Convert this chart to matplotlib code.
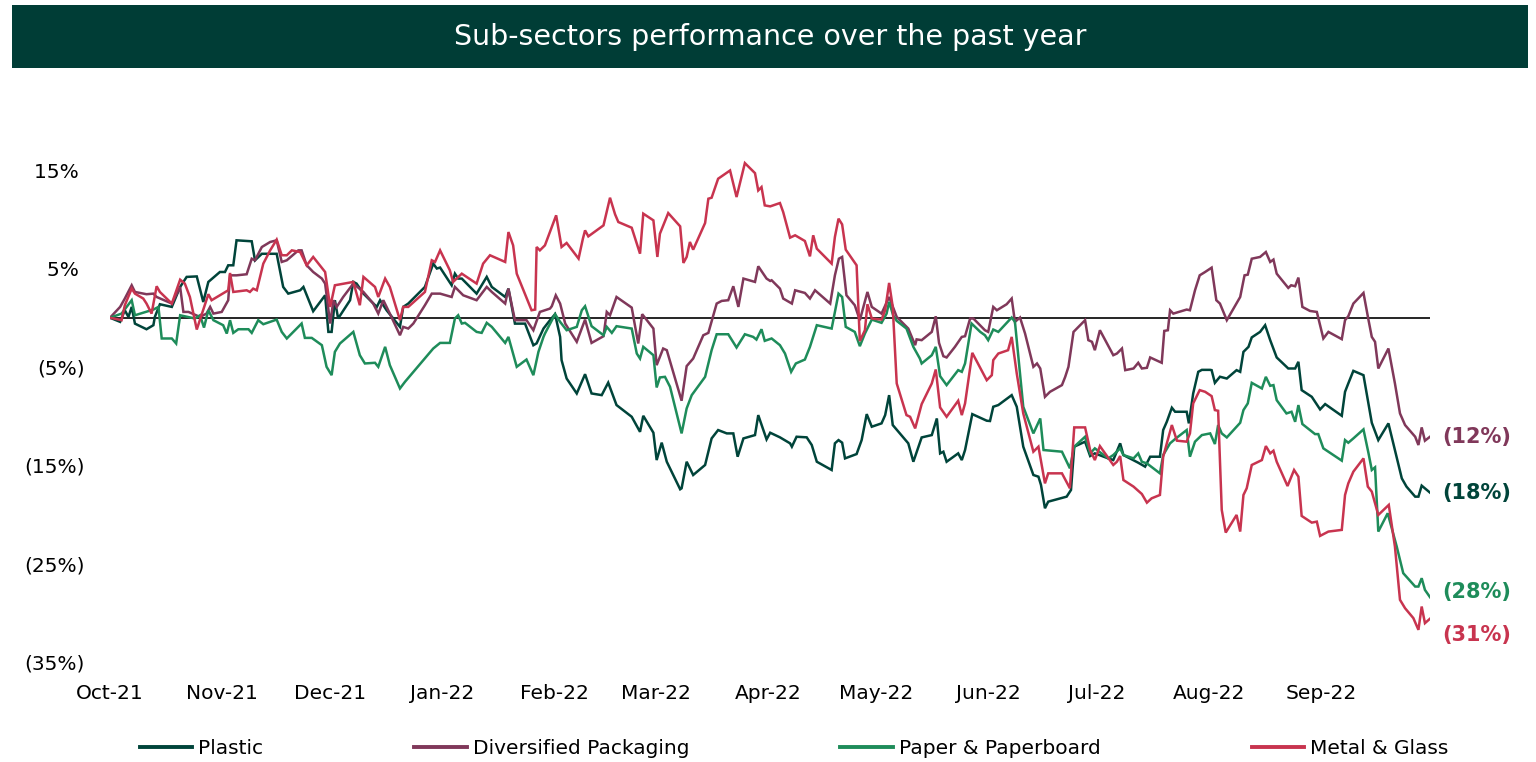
"""Sub-sectors performance over the past year - line chart."""
import pandas as pd
import matplotlib
matplotlib.use('Agg')
import matplotlib.pyplot as plt
import matplotlib.dates as mdates
from matplotlib.patches import Rectangle

plt.rcParams['font.family'] = ['DejaVu Sans']

TITLE = 'Sub-sectors performance over the past year'
START = pd.Timestamp('2021-10-01')
MONTH_TICKS = pd.date_range('2021-10-01', '2022-09-01', freq='MS')

# (days since 1 Oct 2021, cumulative performance in %)
PLASTIC = [
    (0, 0), (2.8, -0.42), (4.1, 0.76), (5.1, 0.08), (6.0, 1.1), (6.9, -0.6), (10.1, -1.17), (12.0, -0.76),
    (12.4, 0.08), (13.8, 1.37), (17.1, 1.1), (19.4, 3.13), (21.2, 4.15), (24.0, 4.2), (25.8, 1.6), (27.2, 3.64),
    (30.4, 4.65), (31.8, 4.65), (32.7, 5.33), (34.1, 5.33), (35.0, 7.87), (39.2, 7.77), (40.1, 5.84), (42.0, 6.5),
    (46.1, 6.5), (47.9, 3.13), (49.3, 2.45), (52.6, 2.79), (53.5, 3.13), (56.2, 0.66), (59.5, 2.28), (60.4, -1.44),
    (61.3, -1.44), (62.2, 1.78), (63.1, -0.08), (66.4, 1.78), (67.3, 3.64), (68.2, 3.47), (70.1, 2.45), (73.8, 1.1),
    (74.7, 1.78), (76.5, 0.76), (80.2, -0.93), (81.1, 1.1), (82.5, 1.44), (87.1, 3.13), (89.4, 5.5), (90.4, 5.0),
    (91.3, 5.1), (94.5, 3.3), (95.4, 4.48), (96.3, 3.98), (97.3, 3.98), (101.4, 2.45), (104.2, 4.15), (105.6, 3.13),
    (109.3, 2.11), (110.2, 2.96), (112.0, -0.6), (114.8, -0.6), (117.1, -2.8), (118.0, -2.6), (119.9, -1.1),
    (121.7, -0.25), (123.1, 0.36), (124.5, -1.95), (124.9, -4.31), (126.3, -6.18), (129.1, -7.7), (131.4, -5.74),
    (133.2, -7.7), (136.0, -7.87), (137.8, -6.6), (140.1, -8.88), (144.3, -10.07), (146.6, -11.6), (147.5, -9.97),
    (150.3, -11.69), (151.2, -14.47), (152.6, -12.7), (154.0, -14.64), (157.7, -17.44), (158.1, -17.34),
    (159.5, -14.64), (161.3, -15.99), (164.6, -14.97), (166.4, -12.27), (168.2, -11.42), (170.6, -11.76),
    (172.4, -11.76), (173.6, -14.13), (175.2, -12.27), (178.4, -11.93), (179.3, -9.9), (181.6, -12.37),
    (182.6, -11.69), (183.0, -11.76), (185.3, -12.16), (188.1, -12.77), (188.6, -13.11), (189.9, -12.1),
    (192.7, -12.16), (194.1, -12.94), (195.5, -14.64), (199.6, -15.48), (200.5, -12.77), (201.5, -12.44),
    (202.5, -12.7), (203.3, -14.3), (206.5, -13.86), (207.9, -12.44), (209.3, -9.8), (210.7, -11.08),
    (213.4, -10.74), (214.4, -9.9), (215.5, -7.87), (216.5, -10.91), (220.8, -12.77), (222.2, -14.64),
    (224.5, -12.17), (227.3, -11.93), (228.7, -10.24), (229.6, -13.79), (230.5, -13.62), (231.4, -14.64),
    (234.6, -13.79), (235.6, -14.47), (236.5, -13.45), (238.5, -9.8), (242.5, -10.47), (243.4, -10.5),
    (244.3, -9.05), (245.7, -8.88), (249.4, -7.87), (250.8, -9.05), (252.6, -13.11), (255.4, -15.99),
    (256.8, -16.16), (257.5, -17.0), (258.6, -19.37), (259.5, -18.7), (264.6, -18.19), (265.8, -17.51),
    (266.7, -13.11), (269.7, -12.6), (271.1, -14.06), (272.4, -13.79), (276.1, -14.3), (277.5, -14.47),
    (279.4, -12.77), (280.3, -13.96), (284.4, -14.74), (286.3, -15.14), (287.7, -14.13), (290.4, -14.13),
    (291.3, -11.42), (292.3, -10.58), (293.7, -9.15), (294.6, -9.56), (297.8, -9.56), (298.4, -10.74),
    (299.6, -7.7), (301.0, -5.5), (302.0, -5.3), (304.3, -5.3), (304.7, -5.33), (305.6, -6.62), (307.0, -6.0),
    (308.9, -6.18), (311.6, -5.33), (312.6, -5.5), (313.5, -3.47), (314.9, -2.96), (315.8, -2.0), (318.1, -1.44),
    (319.5, -0.76), (320.9, -2.28), (322.7, -4.04), (325.9, -5.16), (327.8, -5.16), (328.7, -4.48), (329.6, -7.36),
    (332.4, -8.04), (334.7, -9.32), (336.1, -8.78), (340.7, -9.97), (341.6, -7.53), (342.5, -6.68), (343.9, -5.4),
    (346.7, -5.84), (349.0, -10.68), (350.8, -12.44), (353.6, -10.74), (357.3, -16.33), (358.6, -17.17),
    (361.0, -18.19), (361.9, -18.19), (362.8, -17.07), (365.1, -17.78),
]

DIVERSIFIED = [
    (0, 0), (2.8, 1.1), (4.1, 1.95), (6.0, 3.3), (6.9, 2.62), (10.1, 2.39), (12.0, 2.45), (12.9, 2.11),
    (17.1, 1.44), (19.4, 3.13), (20.3, 0.59), (21.7, 0.59), (24.9, 0.08), (26.7, 0.42), (27.7, 1.1), (28.6, 0.42),
    (30.9, 0.59), (32.7, 1.78), (33.2, 4.31), (35.0, 4.31), (37.8, 4.42), (39.2, 6.0), (40.1, 5.84), (42.0, 7.19),
    (44.3, 7.7), (46.1, 7.87), (47.5, 5.67), (48.9, 5.84), (52.1, 6.85), (53.0, 6.85), (54.4, 5.33), (56.2, 4.65),
    (58.6, 3.98), (59.5, 3.47), (60.9, -0.59), (61.8, 1.78), (62.7, 1.1), (64.5, 2.11), (67.3, 3.47), (70.1, 2.62),
    (72.8, 1.44), (74.2, 0.42), (75.6, 1.78), (77.4, 0.42), (80.2, -1.78), (81.1, -0.93), (82.5, -1.1),
    (83.9, -0.59), (87.1, 1.27), (89.0, 2.45), (91.3, 2.45), (94.5, 2.11), (95.4, 3.13), (97.7, 2.28),
    (101.4, 1.78), (104.2, 3.13), (105.6, 2.62), (109.3, 1.44), (110.2, 2.96), (112.0, -0.25), (115.2, -0.25),
    (117.1, -1.27), (118.9, 0.59), (121.7, 0.93), (122.2, 1.17), (123.3, 2.28), (124.5, 1.44), (125.9, -0.59),
    (129.1, -2.45), (131.4, -0.19), (133.2, -2.56), (136.5, -1.88), (137.4, 0.59), (138.3, 0.25), (140.1, 2.11),
    (144.3, 1.03), (146.1, -2.62), (147.2, 0.36), (150.3, -1.1), (151.2, -4.82), (153.0, -3.13), (154.0, -3.3),
    (158.1, -8.44), (159.5, -4.92), (161.3, -4.15), (164.1, -1.78), (165.5, -1.54), (167.8, 1.44), (169.2, 1.71),
    (171.0, 1.78), (172.4, 3.2), (173.8, 1.1), (175.2, 3.98), (178.4, 3.64), (179.3, 5.23), (181.6, 3.98),
    (182.6, 3.74), (183.0, 3.81), (185.3, 2.96), (186.2, 1.95), (188.6, 1.44), (189.5, 2.79), (192.2, 2.52),
    (193.6, 1.95), (195.0, 2.79), (199.2, 1.44), (200.5, 4.31), (201.6, 6.0), (202.5, 6.18), (203.7, 2.28),
    (206.0, 1.27), (207.4, -0.25), (209.5, 2.62), (210.7, 1.1), (213.4, 0.42), (215.5, 2.11), (217.6, 0.08),
    (220.8, -1.1), (222.7, -2.79), (223.1, -2.2), (224.5, -2.28), (227.3, -1.44), (228.4, 0.15), (229.3, -2.56),
    (230.5, -3.91), (231.4, -4.04), (233.7, -2.96), (235.6, -1.95), (236.5, -1.88), (237.9, -0.08),
    (238.8, -0.08), (242.0, -1.27), (242.9, -1.44), (244.3, 1.1), (245.3, 0.76), (248.0, 1.37), (249.4, 1.95),
    (250.3, -0.42), (251.7, 0.02), (253.1, -1.61), (255.4, -4.99), (256.4, -4.65), (257.3, -5.16), (258.6, -8.04),
    (260.0, -7.53), (263.3, -6.85), (264.2, -6.01), (265.1, -4.99), (266.5, -1.44), (269.7, -0.25),
    (270.6, -2.28), (271.6, -2.45), (272.4, -3.3), (273.8, -1.27), (277.5, -3.81), (278.5, -3.64), (279.9, -3.13),
    (280.8, -5.33), (283.1, -5.16), (284.4, -4.58), (285.4, -5.16), (286.8, -5.09), (287.7, -4.04),
    (290.9, -4.58), (291.6, -1.34), (292.6, -1.27), (293.2, 0.76), (294.1, 0.42), (297.8, 0.83), (298.7, 0.76),
    (300.1, 2.79), (301.4, 4.31), (302.9, 4.65), (304.7, 5.09), (306.0, 1.78), (307.0, 1.44), (308.9, -0.25),
    (312.6, 2.11), (313.8, 4.31), (314.7, 4.38), (315.8, 6.0), (318.1, 6.18), (319.7, 6.68), (320.9, 5.67),
    (321.8, 5.91), (322.7, 4.48), (325.9, 3.03), (326.7, 3.3), (327.8, 3.2), (328.7, 4.08), (329.8, 1.1),
    (331.9, 0.69), (333.8, 0.59), (335.6, -2.11), (337.0, -1.44), (340.7, -2.18), (341.6, -0.25), (342.5, 0.15),
    (343.9, 1.44), (346.7, 2.52), (348.1, -0.25), (349.0, -1.95), (349.9, -2.45), (350.8, -5.16), (353.6, -3.13),
    (355.4, -6.68), (356.8, -9.73), (358.2, -10.91), (361.0, -12.1), (361.9, -12.94), (362.8, -11.15),
    (363.7, -12.5), (365.1, -12.1),
]

PAPER = [
    (0, 0), (3.2, 0.42), (6.0, 1.78), (6.9, 0.25), (12.0, 0.83), (13.4, 1.1), (14.3, -2.11), (17.1, -2.11),
    (18.3, -2.62), (19.4, 0.25), (23.5, -0.08), (24.9, 0.25), (26.0, -1.0), (27.2, 0.76), (28.6, -0.25),
    (31.3, -0.76), (32.3, -1.61), (33.2, -0.25), (34.1, -1.54), (35.5, -1.17), (38.3, -1.17), (39.2, -1.54),
    (41.0, -0.25), (42.4, -0.66), (46.1, -0.19), (47.5, -1.44), (48.9, -2.11), (53.0, -0.59), (53.9, -2.05),
    (55.8, -2.05), (58.6, -2.79), (59.9, -4.99), (61.3, -5.84), (62.2, -3.47), (63.6, -2.62), (67.3, -1.44),
    (69.1, -3.81), (70.5, -4.65), (73.3, -4.58), (74.2, -4.99), (76.1, -2.96), (77.4, -4.82), (80.2, -7.19),
    (81.6, -6.51), (86.7, -4.31), (89.4, -3.13), (91.3, -2.56), (94.0, -2.56), (95.4, -0.08), (96.3, 0.25),
    (97.3, -0.59), (98.2, -0.52), (101.4, -1.44), (102.8, -1.54), (104.2, -0.52), (105.6, -0.93), (109.3, -2.56),
    (110.2, -1.95), (112.5, -4.99), (115.2, -4.25), (117.1, -5.84), (118.5, -3.47), (119.9, -1.95),
    (120.3, -1.61), (123.1, 0.36), (124.5, -0.42), (126.3, -1.27), (129.1, -0.93), (130.5, 0.76), (131.4, 1.17),
    (133.2, -0.86), (136.5, -1.78), (137.4, -0.93), (138.8, -1.54), (140.1, -0.86), (144.3, -1.1), (145.7, -3.64),
    (146.6, -4.15), (147.5, -2.96), (150.3, -3.81), (151.2, -7.09), (152.1, -6.07), (153.5, -6.01),
    (154.9, -7.02), (158.1, -11.76), (159.5, -9.22), (160.9, -7.87), (164.6, -6.01), (166.4, -3.3),
    (167.8, -1.68), (171.0, -1.68), (173.3, -3.03), (175.6, -1.68), (177.9, -1.95), (178.8, -2.22),
    (180.2, -1.17), (181.1, -2.35), (183.0, -2.11), (185.3, -2.79), (186.7, -3.64), (188.4, -5.5), (189.7, -4.65),
    (192.2, -4.25), (193.6, -2.96), (195.5, -0.76), (199.6, -1.1), (201.5, 2.45), (202.5, 2.11), (203.5, -0.93),
    (206.0, -1.44), (207.4, -2.89), (208.8, -1.61), (210.7, -0.19), (213.4, -0.52), (214.8, 0.42), (215.5, 1.61),
    (216.6, 0.25), (217.6, -0.32), (220.3, -1.1), (222.2, -2.96), (224.0, -4.15), (224.5, -4.65), (227.3, -3.81),
    (228.4, -2.96), (229.6, -5.94), (231.4, -6.85), (234.6, -5.33), (235.6, -5.5), (236.5, -4.65),
    (238.3, -0.59), (240.7, -1.44), (242.0, -1.78), (242.9, -2.28), (244.3, -1.2), (245.7, -1.44), (249.4, 0.02),
    (250.3, -0.42), (252.6, -9.05), (254.0, -10.41), (255.4, -11.76), (257.3, -10.24), (258.2, -13.45),
    (263.3, -13.62), (265.5, -15.31), (266.7, -13.11), (269.7, -12.1), (271.1, -13.79), (272.4, -13.28),
    (276.1, -14.3), (277.5, -13.96), (279.4, -13.28), (280.3, -13.96), (283.1, -14.3), (284.4, -13.79),
    (285.4, -14.64), (286.8, -14.81), (290.4, -15.82), (291.3, -13.96), (293.2, -12.77), (294.8, -12.27),
    (297.8, -11.42), (298.7, -14.13), (300.1, -12.6), (302.0, -11.93), (304.3, -11.76), (305.6, -12.84),
    (306.5, -10.91), (307.5, -11.76), (308.9, -12.17), (312.6, -10.68), (313.5, -9.39), (314.7, -8.71),
    (315.8, -6.62), (318.6, -7.19), (319.7, -6.01), (320.9, -6.92), (321.8, -6.85), (322.7, -8.38),
    (325.4, -9.73), (326.8, -9.56), (327.8, -10.58), (328.7, -8.88), (329.8, -10.81), (333.3, -11.83),
    (334.2, -11.83), (335.6, -13.28), (337.0, -13.62), (340.7, -14.53), (341.6, -12.44), (342.5, -12.71),
    (343.9, -12.27), (346.7, -11.35), (348.1, -13.79), (349.0, -15.48), (349.9, -15.21), (350.8, -21.74),
    (353.4, -19.88), (355.9, -23.27), (357.7, -25.97), (361.0, -27.33), (361.9, -27.33), (362.8, -26.48),
    (363.7, -27.67), (365.1, -28.41),
]

METAL = [
    (0, 0), (3.2, -0.25), (4.1, 1.27), (6.0, 2.96), (6.9, 2.45), (9.2, 1.95), (10.1, 1.44), (11.5, 0.42),
    (12.9, 3.2), (13.8, 2.62), (17.1, 1.44), (19.4, 3.87), (20.7, 3.47), (22.1, 2.11), (24.0, -1.2), (27.2, 2.39),
    (28.1, 1.78), (32.7, 2.79), (33.2, 4.55), (34.1, 2.62), (37.8, 2.79), (38.7, 2.62), (39.6, 2.96),
    (40.6, 2.79), (42.4, 5.5), (44.3, 6.85), (46.1, 7.94), (47.5, 6.35), (48.9, 6.35), (50.3, 6.85), (52.6, 6.68),
    (54.4, 5.33), (56.2, 6.18), (59.5, 4.65), (60.9, 1.1), (62.2, 3.3), (67.3, 3.64), (69.1, 1.27), (70.1, 4.15),
    (73.3, 3.13), (74.2, 2.11), (76.1, 3.98), (77.4, 3.13), (80.2, -0.25), (81.1, 1.1), (82.5, 1.1), (87.1, 2.62),
    (89.0, 5.84), (89.9, 5.67), (91.3, 6.85), (94.0, 4.82), (94.9, 3.64), (97.3, 4.48), (101.4, 3.47),
    (103.2, 5.5), (105.1, 6.35), (109.3, 5.67), (110.2, 8.71), (111.5, 7.36), (112.5, 4.48), (116.6, 0.76),
    (117.6, 0.83), (118.0, 7.19), (118.9, 6.85), (120.3, 7.36), (123.4, 10.41), (124.9, 7.19), (126.3, 7.6),
    (129.6, 6.01), (130.8, 8.04), (131.4, 8.88), (132.3, 8.27), (136.5, 9.39), (138.3, 12.2), (139.7, 10.51),
    (140.6, 9.73), (144.3, 9.15), (146.6, 6.51), (147.5, 10.58), (150.3, 9.9), (151.4, 6.18), (152.1, 8.54),
    (154.4, 10.64), (157.7, 9.29), (158.6, 5.57), (159.5, 6.18), (160.4, 7.7), (161.3, 6.92), (164.6, 9.63),
    (165.5, 12.1), (166.4, 12.2), (168.2, 14.13), (171.5, 14.97), (173.3, 12.27), (175.6, 15.72), (178.4, 14.7),
    (179.3, 12.94), (180.2, 13.28), (181.1, 11.42), (182.6, 11.32), (185.3, 11.66), (186.2, 10.74),
    (188.1, 8.14), (189.5, 8.38), (192.2, 7.8), (193.6, 6.24), (194.5, 8.38), (195.5, 7.02), (199.6, 5.5),
    (200.5, 8.21), (201.5, 10.07), (202.5, 9.49), (203.5, 6.92), (206.5, 5.33), (207.4, -2.37), (208.8, -1.27),
    (209.5, 1.37), (210.7, -0.08), (213.4, -0.19), (214.4, 0.76), (215.5, 3.54), (216.5, 1.1), (217.6, -6.68),
    (220.3, -9.9), (221.3, -10.07), (222.7, -11.25), (224.5, -8.78), (227.3, -6.68), (228.4, -5.26),
    (229.6, -9.12), (231.4, -10.07), (234.6, -8.44), (235.6, -9.9), (236.5, -8.71), (238.5, -3.57),
    (242.5, -6.35), (243.9, -5.84), (244.3, -4.31), (245.7, -3.64), (248.4, -3.3), (249.4, -1.95),
    (250.8, -5.67), (252.6, -9.73), (255.4, -13.62), (256.8, -13.11), (258.6, -16.84), (259.5, -15.82),
    (263.3, -15.82), (265.5, -17.34), (266.7, -11.15), (269.7, -11.15), (271.1, -13.45), (272.4, -14.47),
    (273.8, -13.05), (277.5, -14.97), (278.5, -14.64), (279.4, -14.06), (280.3, -16.5), (283.1, -17.17),
    (285.4, -17.92), (286.8, -18.8), (288.1, -18.36), (290.4, -18.02), (291.3, -14.13), (293.7, -10.91),
    (295.1, -12.5), (297.8, -12.6), (298.7, -11.76), (299.6, -8.71), (301.4, -7.36), (302.9, -7.53),
    (304.7, -7.97), (305.6, -9.39), (306.5, -9.46), (307.5, -19.54), (308.6, -21.84), (311.6, -20.05),
    (312.6, -21.74), (313.5, -18.02), (314.4, -17.34), (315.8, -14.97), (318.6, -14.47), (319.7, -13.05),
    (320.9, -13.79), (321.8, -13.52), (322.7, -14.64), (325.7, -17.11), (327.5, -15.48), (328.7, -16.16),
    (329.6, -20.15), (332.4, -20.83), (333.8, -20.73), (334.7, -22.18), (337.0, -21.74), (340.7, -21.57),
    (341.6, -18.02), (342.5, -16.84), (343.9, -15.65), (346.7, -14.3), (347.9, -17.17), (349.0, -17.68),
    (350.8, -20.05), (353.7, -19.03), (355.4, -23.27), (356.8, -28.68), (358.2, -29.53), (360.5, -30.54),
    (361.9, -31.73), (362.8, -29.36), (363.7, -31.05), (365.1, -30.6),
]

SERIES = ['Plastic', 'Diversified Packaging', 'Paper & Paperboard', 'Metal & Glass']
DATA = [PLASTIC, DIVERSIFIED, PAPER, METAL]
COLORS = ['#00443A', '#80385A', '#1E8C5A', '#C8344F']
LABEL_SHIFT = [0, 0, 4, -12]   # points, to keep end labels apart

Y_TICKS = [15, 5, -5, -15, -25, -35]


def pct_label(v):
    return f'({abs(v):.0f}%)' if v < 0 else f'{v:.0f}%\u2008'


fig = plt.figure(figsize=(15.36, 7.62), dpi=100)

# header band
fig.patches.append(Rectangle((12 / 1536, 694 / 762), 1516 / 1536, 63 / 762,
                             transform=fig.transFigure, facecolor='#003D36',
                             edgecolor='none', zorder=0))
fig.text(0.5016, 0.951, TITLE, color='white', fontsize=20.5, ha='center', va='center')

ax = fig.add_axes([110 / 1536, 100 / 762, 1320 / 1536, 541 / 762])

for name, pts, color in zip(SERIES, DATA, COLORS):
    days, vals = zip(*pts)
    dates = START + pd.to_timedelta(list(days), unit='D')
    ax.plot(dates, vals, color=color, linewidth=1.8, label=name, solid_joinstyle='miter')

ax.axhline(0, color='black', linewidth=1.2, zorder=1)

# end-of-period labels
for pts, color, shift in zip(DATA, COLORS, LABEL_SHIFT):
    d, v = pts[-1]
    ax.annotate(pct_label(round(v)), xy=(START + pd.Timedelta(days=d), v),
                xytext=(9, shift), textcoords='offset points',
                ha='left', va='center', color=color, fontsize=15,
                fontweight='bold', annotation_clip=False)

ax.set_xlim(START, START + pd.Timedelta(days=365.1))
ax.set_ylim(-35, 20)
ax.set_yticks(Y_TICKS)
ax.set_yticklabels([pct_label(t) for t in Y_TICKS])
ax.set_xticks(MONTH_TICKS)
ax.xaxis.set_major_formatter(mdates.DateFormatter('%b-%y'))
ax.tick_params(axis='both', length=0, labelsize=14.5, colors='black')
ax.tick_params(axis='y', pad=18)
ax.tick_params(axis='x', pad=16)
for s in ax.spines.values():
    s.set_visible(False)

fig.legend(loc='center', bbox_to_anchor=(0.517, 0.018), ncol=4, frameon=False,
           fontsize=14.5, handlelength=2.6, handletextpad=0.3, columnspacing=7.5,
           borderaxespad=0)
leg = fig.legends[0]
for line in leg.get_lines():
    line.set_linewidth(2.8)

fig.savefig('out.png', dpi=100)
